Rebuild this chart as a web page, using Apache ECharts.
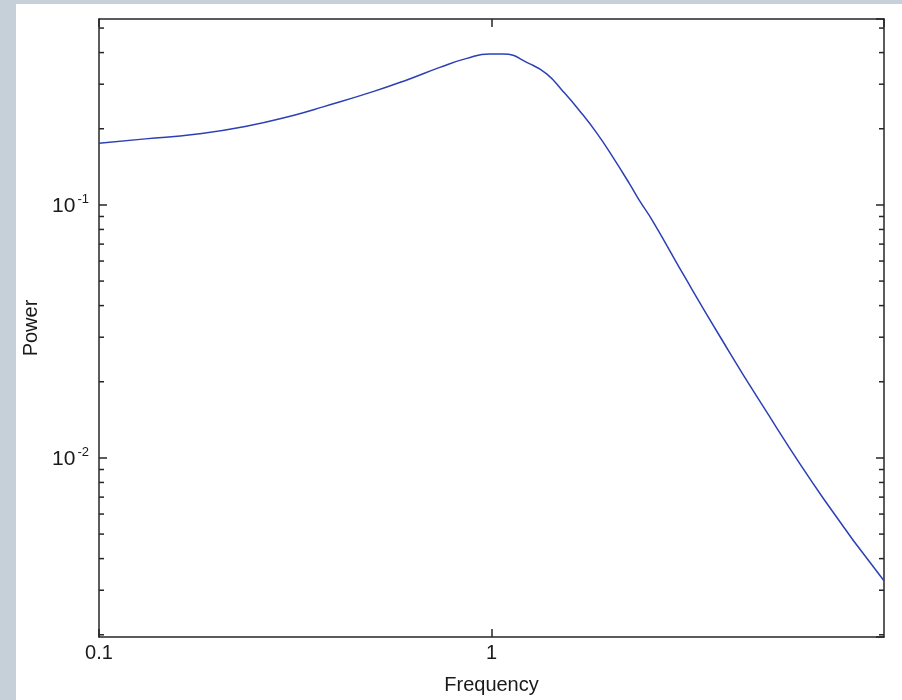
<!DOCTYPE html>
<html>
<head>
<meta charset="utf-8">
<title>Power spectrum</title>
<script src="https://cdn.jsdelivr.net/npm/echarts@6/dist/echarts.min.js"></script>
<style>
  html, body { margin: 0; padding: 0; background: #c5d0d8; }
  #chart { position: absolute; left: 16px; top: 4px; width: 886px; height: 696px; background: #fff; }
</style>
</head>
<body>
<div id="chart"></div>
<script>
'use strict';

/*-----------------------------------------------
|   Data
-----------------------------------------------*/
const frequency = [
  0.1, 0.1312, 0.1759, 0.2357, 0.3158, 0.3721, 0.4989, 0.6087, 0.7386, 0.8653,
  0.99, 1.069, 1.252, 1.382, 1.518, 1.678, 1.853, 2.036, 2.248, 2.385,
  2.573, 3.14, 3.81, 4.732, 7.05, 10
];
const power = [
  0.1754, 0.1824, 0.1903, 0.2043, 0.2268, 0.244, 0.2804, 0.3119, 0.3496, 0.3795,
  0.3949, 0.3949, 0.3609, 0.3295, 0.2822, 0.2352, 0.1926, 0.1548, 0.1211, 0.1037,
  0.0865, 0.0505, 0.0304, 0.01758, 0.00682, 0.00327
];
const xRange = [0.1, 10];
const yRange = [0.00196, 0.543];
const xTickLabels = { 0.1: '0.1', 1: '1' };
const yTickLabels = { 0.01: '{b|10}{s|-2}', 0.1: '{b|10}{s|-1}' };
const yMinorTicks = [
  0.002, 0.003, 0.004, 0.005, 0.006, 0.007, 0.008, 0.009,
  0.02, 0.03, 0.04, 0.05, 0.06, 0.07, 0.08, 0.09,
  0.2, 0.3, 0.4, 0.5
];

const FONT = '"Liberation Sans", Arial, sans-serif';
const AXIS_COLOR = '#262626';

const findLabel = (table, value) => {
  const key = Object.keys(table).find((k) => Math.abs(Math.log10(+k) - Math.log10(value)) < 1e-6);
  return key === undefined ? '' : table[key];
};

// shared look of the four box sides
const boxAxis = (extra) => Object.assign({
  type: 'log',
  logBase: 10,
  axisLine: { show: true, onZero: false, lineStyle: { color: AXIS_COLOR, width: 1.5 } },
  axisTick: { show: true, inside: true, length: 8, lineStyle: { color: AXIS_COLOR, width: 1.5 } },
  minorTick: { show: false },
  splitLine: { show: false },
  axisLabel: { show: false }
}, extra);

const chart = echarts.init(document.getElementById('chart'));

chart.setOption({
  animation: false,
  textStyle: { fontFamily: FONT },
  grid: { left: 83, top: 15, right: 18, bottom: 63, containLabel: false, outerBoundsMode: 'none' },
  xAxis: [
    boxAxis({
      position: 'bottom',
      min: xRange[0],
      max: xRange[1],
      name: 'Frequency',
      nameLocation: 'middle',
      nameGap: 38,
      nameTextStyle: { fontSize: 20, color: '#1a1a1a', fontFamily: FONT },
      axisLabel: {
        show: true,
        margin: 6,
        fontSize: 20,
        color: '#1a1a1a',
        fontFamily: FONT,
        showMaxLabel: false,
        formatter: (v) => findLabel(xTickLabels, v)
      }
    }),
    boxAxis({ position: 'top', min: xRange[0], max: xRange[1] })
  ],
  yAxis: [
    boxAxis({
      position: 'left',
      min: yRange[0],
      max: yRange[1],
      name: 'Power',
      nameLocation: 'middle',
      nameGap: 56,
      nameTextStyle: { fontSize: 20, color: '#1a1a1a', fontFamily: FONT },
      axisLabel: {
        show: true,
        margin: 10,
        color: '#1a1a1a',
        showMinLabel: false,
        showMaxLabel: false,
        formatter: (v) => findLabel(yTickLabels, v),
        rich: {
          b: { fontSize: 21, fontFamily: FONT, color: '#1a1a1a', verticalAlign: 'bottom', lineHeight: 24 },
          s: { fontSize: 13, fontFamily: FONT, color: '#1a1a1a', verticalAlign: 'top', lineHeight: 24, padding: [0, 0, 0, 2] }
        }
      }
    }),
    boxAxis({ position: 'right', min: yRange[0], max: yRange[1] })
  ],
  series: [
    {
      type: 'line',
      data: frequency.map((f, i) => [f, power[i]]),
      smooth: 0.5,
      showSymbol: false,
      lineStyle: { color: '#2c40b6', width: 1.5 },
      z: 3
    },
    {
      // minor ticks (2..9 of each decade) on left and right sides
      type: 'custom',
      data: yMinorTicks.map((v) => [v]),
      encode: { y: 0 },
      silent: true,
      clip: false,
      renderItem: (params, api) => {
        const v = api.value(0);
        const left = api.coord([xRange[0], v]);
        const right = api.coord([xRange[1], v]);
        const style = { stroke: AXIS_COLOR, lineWidth: 1.5 };
        return {
          type: 'group',
          children: [
            { type: 'line', shape: { x1: left[0], y1: left[1], x2: left[0] + 5, y2: left[1] }, style },
            { type: 'line', shape: { x1: right[0], y1: right[1], x2: right[0] - 5, y2: right[1] }, style }
          ]
        };
      }
    }
  ]
});
</script>
</body>
</html>
